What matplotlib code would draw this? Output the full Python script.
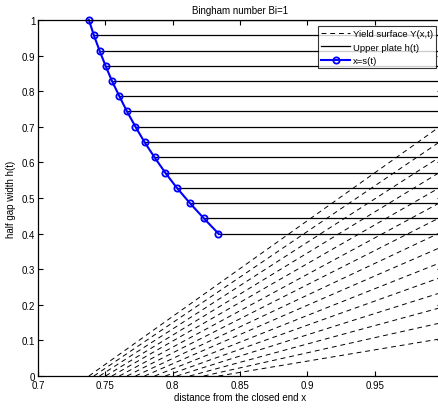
import matplotlib
matplotlib.use("Agg")
import matplotlib.pyplot as plt

# free boundary s(t) and upper plate h(t) at each time step
front_x = [0.7378, 0.7415, 0.7457, 0.7502, 0.7549, 0.7604, 0.7661, 0.7724,
           0.7791, 0.7866, 0.7945, 0.8030, 0.8127, 0.8231, 0.8340]
plate_h = [1.000, 0.957, 0.914, 0.871, 0.829, 0.786, 0.743, 0.700,
           0.657, 0.614, 0.571, 0.529, 0.486, 0.443, 0.400]
# yield surface: value at the right end x=1 for each time step
yield_end = [0.705, 0.662, 0.619, 0.576, 0.533, 0.490, 0.448, 0.405,
             0.363, 0.320, 0.278, 0.235, 0.193, 0.150, 0.105]
x_right = 1.0

plt.rcParams.update({
    "font.family": ["Liberation Sans", "DejaVu Sans"],
    "font.size": 7,
    "xtick.direction": "in",
    "ytick.direction": "in",
    "xtick.top": True,
    "ytick.right": True,
    "xtick.major.size": 3.5,
    "ytick.major.size": 3.5,
})

fig = plt.figure(figsize=(4.38, 4.10), dpi=100)
ax = fig.add_axes([38 / 438, 33 / 410, 404 / 438, 356 / 410])

for i, (s, y_end) in enumerate(zip(front_x, yield_end)):
    ax.plot([s, x_right], [0, y_end], color="black", linewidth=0.7,
            linestyle=(0, (5, 4)), label="Yield surface Y(x,t)" if i == 0 else None)
for i, (s, h) in enumerate(zip(front_x, plate_h)):
    ax.plot([s, x_right], [h, h], color="black", linewidth=0.9,
            label="Upper plate h(t)" if i == 0 else None)
ax.plot(front_x, plate_h, color="blue", linewidth=1.5, marker="o", markersize=4.5,
        markerfacecolor="none", markeredgewidth=1.3, label="x=s(t)", clip_on=False)

ax.set_xlim(0.7, 1.0)
ax.set_ylim(0, 1)
ax.set_xticks([0.7, 0.75, 0.8, 0.85, 0.9, 0.95, 1.0])
ax.set_xticklabels(["0.7", "0.75", "0.8", "0.85", "0.9", "0.95", "1"])
ax.set_yticks([0, 0.1, 0.2, 0.3, 0.4, 0.5, 0.6, 0.7, 0.8, 0.9, 1.0])
ax.set_yticklabels(["0", "0.1", "0.2", "0.3", "0.4", "0.5", "0.6", "0.7", "0.8", "0.9", "1"])
ax.tick_params(axis="x", pad=3, width=0.8)
ax.tick_params(axis="y", pad=2, width=0.8)
for spine in ax.spines.values():
    spine.set_linewidth(0.9)

ax.set_title("Bingham number Bi=1", fontsize=7, pad=5)
ax.set_xlabel("distance from the closed end x", fontsize=7, labelpad=1)
ax.set_ylabel("half gap width h(t)", fontsize=7, labelpad=4)

leg = ax.legend(loc="upper right", bbox_to_anchor=(0.985, 0.983), fontsize=6.8,
                frameon=True, fancybox=False, edgecolor="black", handlelength=3.1,
                borderpad=0.3, labelspacing=0.5, handletextpad=0.3,
                borderaxespad=0.0)
leg.get_frame().set_linewidth(0.8)

fig.savefig("out.png", dpi=100)
